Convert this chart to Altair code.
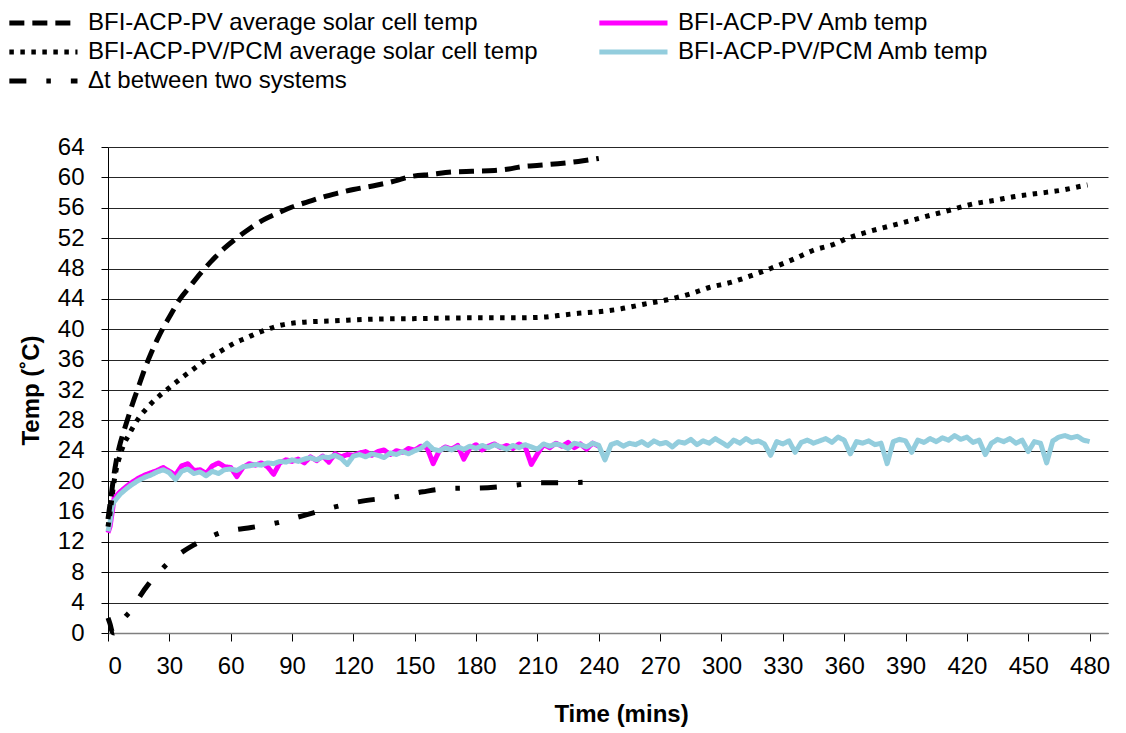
import altair as alt
import pandas as pd

FONT = "Liberation Sans"

names = [
    "BFI-ACP-PV average solar cell temp",
    "BFI-ACP-PV/PCM average solar cell temp",
    "Δt between two systems",
    "BFI-ACP-PV Amb temp",
    "BFI-ACP-PV/PCM Amb temp",
]
colors = ["#000000", "#000000", "#000000", "#FF00FF", "#93CDDD"]
dashes = [[15, 8], [4.5, 6.5], [17, 20, 4.5, 20], [1, 0], [1, 0]]

# BFI-ACP-PV average solar cell temp
pv_t = [0, 1, 2, 3, 4, 6, 8, 10, 12, 15, 18, 21, 24, 27, 30, 35, 40, 45, 50, 55, 62, 69, 76,
        83, 90, 98, 105, 112, 120, 130, 140, 148, 158, 168, 178, 189, 196, 202, 211, 220, 230, 240]
pv_v = [15.0, 17.0, 19.0, 21.0, 22.6, 25.0, 26.8, 28.5, 30.2, 32.5, 34.8, 36.8, 38.6, 40.2, 41.6,
        43.9, 45.6, 47.3, 48.8, 50.2, 51.8, 53.2, 54.4, 55.3, 56.1, 56.8, 57.4, 57.9, 58.4, 58.9,
        59.5, 60.1, 60.4, 60.7, 60.8, 60.9, 61.1, 61.4, 61.6, 61.8, 62.1, 62.5]

# BFI-ACP-PV/PCM average solar cell temp
pcm_t = [0, 1, 2, 3, 4, 6, 8, 10, 12, 15, 18, 21, 25, 30, 36, 42, 48, 55, 62, 68, 73, 78, 84, 94,
         110, 132, 150, 176, 200, 213, 220, 230, 240, 251, 262, 273, 284, 294, 305, 315, 324, 335,
         345, 355, 360, 370, 381, 391, 402, 412, 423, 434, 444, 455, 466, 477, 479]
pcm_v = [14.0, 15.8, 18.0, 20.0, 21.5, 23.5, 25.0, 26.0, 27.0, 28.3, 29.3, 30.2, 31.2, 32.3, 33.6,
         34.8, 36.0, 37.1, 38.2, 38.9, 39.5, 40.0, 40.5, 40.9, 41.1, 41.35, 41.4, 41.5, 41.5, 41.6,
         41.8, 42.1, 42.3, 42.7, 43.3, 43.85, 44.6, 45.5, 46.2, 47.1, 48.0, 49.2, 50.4, 51.2, 51.8,
         52.7, 53.5, 54.2, 55.0, 55.7, 56.5, 57.0, 57.5, 57.9, 58.3, 58.9, 59.0]

# Δt between two systems
dt_t = [0, 1, 2, 3, 4, 6, 8, 12, 16, 20, 25, 30, 36, 42, 48, 55, 62, 70, 84, 96, 111, 125, 140,
        154, 168, 182, 197, 211, 226, 240]
dt_v = [2.0, 1.2, 0.2, 0.0, 0.5, 1.3, 2.0, 3.2, 5.0, 6.5, 8.0, 9.4, 10.6, 11.6, 12.4, 13.2, 13.6,
        13.9, 14.6, 15.5, 16.6, 17.4, 17.9, 18.6, 19.05, 19.1, 19.4, 19.8, 19.8, 20.0]

# BFI-ACP-PV Amb temp
amb1_t = [0, 1, 2] + list(range(3, 241, 3))
amb1_v = [13.2, 14.0, 15.8,
          17.8, 18.6, 19.3, 19.9, 20.4, 20.8, 21.1, 21.4, 21.8, 21.3, 20.8, 22.0, 22.3, 21.4, 21.5,
          21.0, 22.0, 22.4, 21.9, 21.8, 20.6, 21.8, 22.3, 22.1, 22.4, 21.9, 20.9, 22.4, 22.8, 22.6,
          22.9, 22.4, 23.2, 22.7, 23.3, 22.5, 23.6, 23.2, 23.5, 23.4, 23.7, 23.9, 23.4, 23.9, 24.1,
          23.5, 24.0, 23.8, 24.3, 24.1, 24.6, 24.4, 22.3, 24.0, 24.5, 24.2, 24.7, 22.9, 24.4, 24.8,
          24.1, 24.6, 24.9, 24.4, 24.7, 24.3, 24.9, 24.5, 22.2, 23.6, 24.8, 24.4, 25.0, 24.6, 25.1,
          24.4, 24.9, 24.2, 25.0, 24.6]

# BFI-ACP-PV/PCM Amb temp
amb2_t = [0, 1, 2] + list(range(3, 481, 3))
amb2_v = [13.4, 14.6, 16.6,
          17.3, 18.3, 19.0, 19.6, 20.1, 20.5, 20.8, 21.2, 21.5, 21.1, 20.2, 21.3, 21.6, 21.0, 21.2,
          20.7, 21.3, 21.0, 21.5, 21.6, 21.4, 21.9, 22.0, 22.2, 22.1, 22.4, 22.3, 22.6, 22.5, 22.8,
          22.6, 22.9, 23.1, 22.8, 23.2, 23.1, 23.4, 23.0, 22.2, 23.3, 23.5, 23.2, 23.6, 23.4, 23.1,
          23.7, 23.5, 23.9, 23.6, 24.0, 24.3, 25.0, 24.2, 24.0, 24.4, 24.1, 24.5, 24.2, 24.6, 24.3,
          24.7, 24.4, 24.8, 24.5, 24.2, 24.7, 24.4, 24.8, 24.5, 24.2, 24.9, 24.6, 24.9, 24.7, 24.3,
          25.0, 24.8, 24.5, 25.0, 24.7, 22.8, 24.8, 25.1, 24.6, 25.0, 24.8, 25.2, 24.7, 25.3, 24.9,
          25.1, 24.5, 25.2, 25.0, 25.5, 24.8, 25.3, 25.0, 25.6, 25.1, 24.6, 25.4, 25.0, 25.6, 25.1,
          25.3, 24.9, 23.4, 25.2, 24.9, 25.3, 23.8, 25.1, 25.4, 25.0, 25.3, 25.6, 25.1, 25.8, 25.4,
          23.6, 25.2, 25.0, 25.3, 24.8, 25.0, 22.3, 25.2, 25.5, 25.3, 23.8, 25.4, 25.1, 25.6, 25.2,
          25.7, 25.4, 26.0, 25.5, 25.8, 25.1, 25.4, 23.5, 25.0, 25.5, 25.2, 25.6, 25.0, 25.4, 23.9,
          25.2, 25.0, 22.4, 25.3, 25.8, 26.0, 25.7, 25.9, 25.4, 25.2]

x_ticks = list(range(0, 481, 30))
y_ticks = list(range(0, 65, 4))


def frame(name, ts, vs):
    return pd.DataFrame({"series": name, "t": ts, "v": vs})


color_scale = alt.Scale(domain=names, range=colors)
dash_scale = alt.Scale(domain=names, range=dashes)

legend = alt.Legend(
    title=None,
    orient="none",
    legendX=-62,
    legendY=-141,
    columns=2,
    columnPadding=51,
    rowPadding=0,
    symbolType="M-3.7,0H1",
    symbolSize=841,
    symbolStrokeWidth=5,
    symbolFillColor="transparent",
    labelFont=FONT,
    labelFontSize=24,
    labelColor="#000000",
    labelLimit=1000,
    labelOffset=8,
    symbolOffset=0,
    padding=0,
)

x_enc = alt.X(
    "t:Q",
    scale=alt.Scale(domain=[0, 489], nice=False, zero=False),
    axis=alt.Axis(values=x_ticks, title="Time (mins)", grid=False, tickSize=8,
                  labelPadding=13, titlePadding=24, titleX=513,
                  domainColor="#7F7F7F", domainWidth=1.5),
)
y_enc = alt.Y(
    "v:Q",
    scale=alt.Scale(domain=[0, 64], nice=False),
    axis=alt.Axis(values=y_ticks, title="Temp (˚C)", grid=True, tickSize=7,
                  labelPadding=17, titlePadding=14),
)


def layer(df, interp):
    return alt.Chart(df).mark_line(
        strokeWidth=5, interpolate=interp, strokeJoin="round"
    ).encode(
        x=x_enc,
        y=y_enc,
        color=alt.Color("series:N", scale=color_scale, legend=legend),
        strokeDash=alt.StrokeDash("series:N", scale=dash_scale, legend=legend),
        order=alt.Order("t:Q"),
    )


chart = alt.layer(
    layer(frame(names[3], amb1_t, amb1_v), "linear"),
    layer(frame(names[4], amb2_t, amb2_v), "linear"),
    layer(frame(names[2], dt_t, dt_v), "monotone"),
    layer(frame(names[1], pcm_t, pcm_v), "monotone"),
    layer(frame(names[0], pv_t, pv_v), "monotone"),
).properties(
    width=1000,
    height=486,
    background="white",
    autosize=alt.AutoSizeParams(type="none"),
    padding={"left": 100, "top": 139, "right": 10, "bottom": 94},
).configure_axis(
    labelFont=FONT,
    labelFontSize=24,
    labelColor="#000000",
    titleFont=FONT,
    titleFontSize=24,
    titleFontWeight="bold",
    titleColor="#000000",
    domainColor="#000000",
    tickColor="#000000",
    gridColor="#000000",
    gridOpacity=0.85,
    domainWidth=1,
    tickWidth=1,
    gridWidth=1,
).configure_view(
    stroke=None,
)

chart.save("out.html", embed_options={"renderer": "svg", "actions": False})
